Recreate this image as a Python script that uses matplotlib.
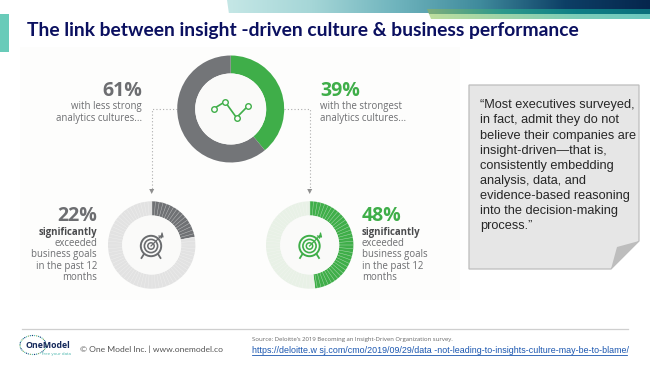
import numpy as np
import matplotlib
matplotlib.use("Agg")
import matplotlib.pyplot as plt
from matplotlib.patches import Polygon, Rectangle, Circle
from matplotlib.colors import LinearSegmentedColormap

W, H = 650, 365
title = "The link between insight -driven culture & business performance"
culture_shares = [39, 61]
culture_labels = ["39%", "61%"]
strong_exceeded = [48, 52]
less_exceeded = [22, 78]
strong_label = "48%"
less_label = "22%"
spark_values = [2.0, 3.2, 0.5, 2.4]
quote_lines = ["“Most executives surveyed,", "in fact, admit they do not", "believe their companies are",
               "insight-driven—that is,", "consistently embedding", "analysis, data, and",
               "evidence-based reasoning", "into the decision-making", "process.”"]
goal_lines = ["exceeded", "business goals", "in the past 12", "months"]
source = "Source: Deloitte’s 2019 Becoming an Insight-Driven Organization survey."
url = "https://deloitte.w sj.com/cmo/2019/09/29/data -not-leading-to-insights-culture-may-be-to-blame/"
footer = "© One Model Inc. | www.onemodel.co"

GREEN, GREY = "#3fae49", "#737578"
TXT = "#6d6e71"
PANEL = "#fdfdfc"

fig = plt.figure(figsize=(W/100, H/100), dpi=100, facecolor="white")
ax = fig.add_axes([0, 0, 1, 1])
ax.set_xlim(0, W); ax.set_ylim(H, 0); ax.axis("off")

def grad(x0, x1, y0, y1, cols, clip=None, z=1):
    cm = LinearSegmentedColormap.from_list("g", cols)
    im = ax.imshow(np.linspace(0, 1, 256)[None, :], cmap=cm, extent=[x0, x1, y1, y0],
                   aspect="auto", zorder=z)
    if clip is not None:
        p = Polygon(clip, transform=ax.transData, fc="none", ec="none")
        ax.add_patch(p); im.set_clip_path(p)

# header decoration
grad(227, 650, 0, 13.5, ["#c5e7e6", "#a5d6d7", "#6fb4bd", "#3f8a9c", "#0d3f66", "#06264d"],
     clip=[(227, 0), (650, 0), (650, 13.5), (229, 13.5)])
grad(427, 650, 9, 14, ["#7fae7c", "#2d9a8c", "#0e7f86", "#0b6f7c"],
     clip=[(427, 9), (650, 9), (650, 14), (429, 14)], z=2)
grad(427, 650, 14, 19, ["#bfdf9f", "#9ed4a8", "#7dcdb8", "#6cc8c0"],
     clip=[(429, 14), (650, 14), (650, 19), (431, 19)], z=2)
ax.add_patch(Rectangle((0, 14), 9, 38, fc="#69cbb9", ec="none"))
ax.text(27, 30.5, title, fontsize=13.9, fontweight="bold", family="Lato", color="#0b1060", va="center")

# panel
ax.add_patch(Rectangle((20, 47), 440, 253, fc=PANEL, ec="none", zorder=0))

def donut(cx, cy, R, r, vals, cols, ticks=0):
    a = fig.add_axes([(cx-R)/W, 1-(cy+R)/H, 2*R/W, 2*R/H])
    a.set_zorder(3)
    a.pie(vals, colors=cols, startangle=90, counterclock=False, radius=1,
          wedgeprops=dict(width=1-r/R, linewidth=0))
    a.set_xlim(-1, 1); a.set_ylim(-1, 1)
    a.add_patch(Circle((0, 0), r/R, fc="#fafaf9", ec="none", zorder=3))
    if ticks:
        for th in np.linspace(0, 2*np.pi, ticks, endpoint=False):
            a.plot([r/R*np.cos(th), np.cos(th)], [r/R*np.sin(th), np.sin(th)],
                   color="#f6f6f5", lw=0.35, alpha=0.6, zorder=4)

donut(230.7, 109, 53.5, 35.5, culture_shares, [GREEN, GREY])
donut(151.7, 245, 43.7, 29.5, less_exceeded, ["#6f7174", "#e2e2e2"], ticks=72)
donut(309.7, 245, 43.7, 29.5, strong_exceeded, [GREEN, "#e8f1e6"], ticks=72)

# sparkline
sx = np.array([213.5, 225, 236.5, 247.5])
sy = 120.6 - np.array(spark_values)*5.9
top = fig.add_axes([0, 0, 1, 1]); top.set_xlim(0, W); top.set_ylim(H, 0); top.axis("off")
top.set_zorder(5); top.patch.set_alpha(0)
top.plot(sx, sy, color=GREEN, lw=1.2, marker="o", ms=4, mfc="#fbfbfa", mec=GREEN, mew=1.0)

def target(cx, cy, c):
    for r, lw in [(10.2, 1.4), (6.6, 1.2), (3.2, 1.1)]:
        top.add_patch(Circle((cx, cy), r, fc="none", ec=c, lw=lw))
    top.plot([cx, cx+10], [cy, cy-10], color=c, lw=0.9)
    top.plot([cx+8, cx+12, cx+11, cx+10], [cy-10, cy-9, cy-13, cy-8], color=c, lw=0.9)
    top.plot([cx-7, cx-9.5], [cy+8, cy+12], color=c, lw=1.3)
    top.plot([cx+7, cx+9.5], [cy+8, cy+12], color=c, lw=1.3)

target(151, 246, "#6a6c6f")
target(309.5, 246, GREEN)

# dotted connectors
dot = dict(color="#adadad", lw=0.8, ls=(0, (1, 2)))
ax.plot([177, 151.7, 151.7], [109, 109, 190], **dot)
ax.plot([284, 309.7, 309.7], [109, 109, 190], **dot)
for x in (151.7, 309.7):
    ax.add_patch(Polygon([(x-2.5, 189), (x+2.5, 189), (x, 194)], fc="#8f8f8f", ec="none"))

# labels
bf = dict(family="Open Sans", fontweight="bold", va="center")
nf = dict(family="Open Sans", va="center", color=TXT, fontsize=6.9)
ax.text(142, 91, culture_labels[1], ha="right", fontsize=14, color=TXT, **bf)
ax.text(142, 106, "with less strong", ha="right", **nf)
ax.text(142, 118, "analytics cultures...", ha="right", **nf)
ax.text(320, 91, culture_labels[0], ha="left", fontsize=14, color=GREEN, **bf)
ax.text(320, 106, "with the strongest", ha="left", **nf)
ax.text(320, 118, "analytics cultures...", ha="left", **nf)

ys = [243.5, 254.5, 266, 277.5]
ax.text(97, 216, less_label, ha="right", fontsize=14, color=TXT, **bf)
ax.text(97, 232, "significantly", ha="right", fontsize=6.95, color="#4a4b4d", **bf)
ax.text(362, 216, strong_label, ha="left", fontsize=14, color=GREEN, **bf)
ax.text(362, 232, "significantly", ha="left", fontsize=6.95, color="#4a4b4d", **bf)
for y, s in zip(ys, goal_lines):
    ax.text(97, y, s, ha="right", **nf)
    ax.text(362, y, s, ha="left", **nf)

# quote note
ax.add_patch(Polygon([(469, 85), (639, 85), (639, 241), (611, 269), (469, 269)],
                     fc="#e6e6e6", ec="#bdbdbd", lw=0.9, zorder=2))
ax.add_patch(Polygon([(639, 241), (617, 247), (611, 269)], fc="#bdbdbd", ec="none", zorder=3))
for i, s in enumerate(quote_lines):
    ax.text(480.5, 105.3 + i*15.15, s, family="Liberation Sans", fontsize=9.15, color="#262626",
            va="center", zorder=4)

# footer
ax.plot([22, 628], [329, 329], color="#cfcfcf", lw=0.9)
th = np.linspace(0, 2*np.pi, 40)
ax.scatter(33+13*np.cos(th), 345+9.5*np.sin(th), s=0.9, c=["#2f8f9d", "#1c3c78", "#58c1b2", "#88aa66"]*10, lw=0)
ax.text(25, 345, "OneModel", family="Open Sans", fontweight="bold", fontsize=6.3, color="#14285a", va="center")
ax.text(42, 353.5, "free your data", family="Open Sans", fontsize=3.2, color="#49b6ad", va="center")
ax.text(80, 349, footer, family="Lato", fontsize=6.1, color="#555555", va="center")
ax.text(252, 339.3, source, family="Open Sans", fontsize=4.35, color="#666666", va="center")
ax.text(252, 350.5, url, family="Liberation Sans", fontsize=6.4, color="#1a56b0", va="center")
ax.plot([252, 627], [354.5, 354.5], color="#1a56b0", lw=0.6)

fig.savefig("out.png", dpi=100, facecolor="white")
